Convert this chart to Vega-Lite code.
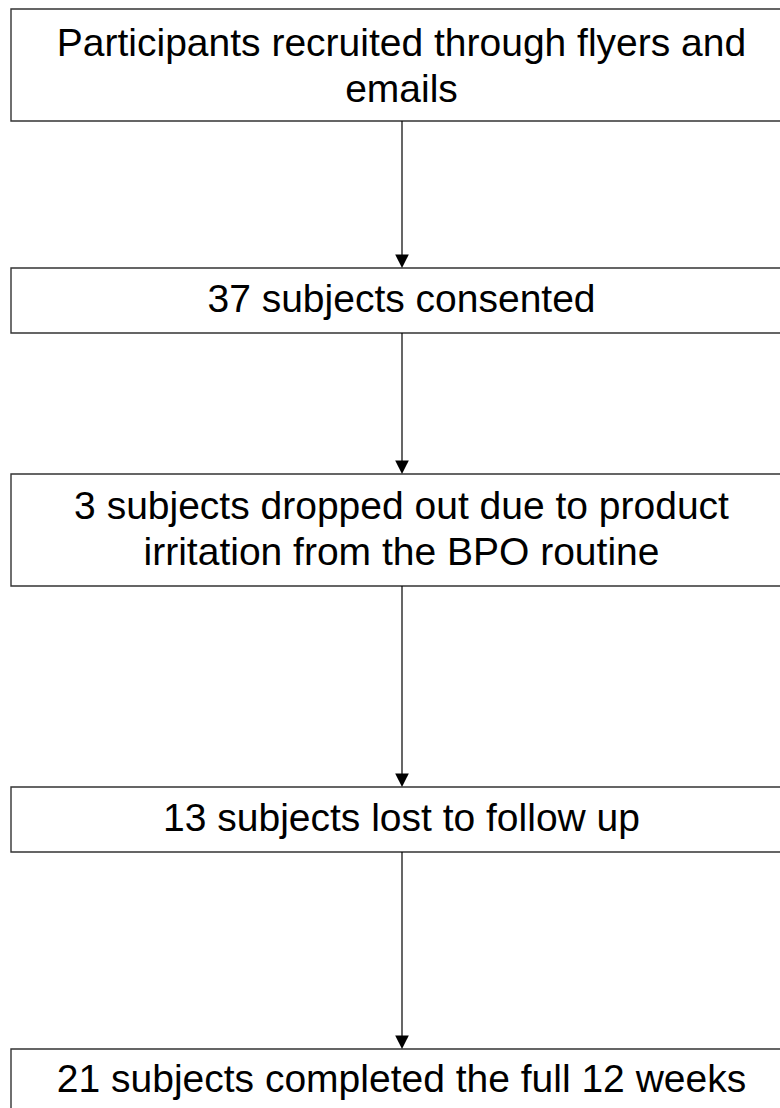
{
  "$schema": "https://vega.github.io/schema/vega-lite/v6.json",
  "width": 780,
  "height": 1108,
  "padding": 0,
  "autosize": {"type": "none"},
  "background": "white",
  "config": {"view": {"stroke": null}},
  "datasets": {
    "boxes": [
      {"label": "Participants recruited through flyers and\nemails", "left": 11, "right": 792, "top": 9, "bottom": 121, "ty": 44},
      {"label": "37 subjects consented", "left": 11, "right": 792, "top": 268, "bottom": 333, "ty": 300},
      {"label": "3 subjects dropped out due to product\nirritation from the BPO routine", "left": 11, "right": 792, "top": 474, "bottom": 586, "ty": 507},
      {"label": "13 subjects lost to follow up", "left": 11, "right": 792, "top": 787, "bottom": 852, "ty": 819},
      {"label": "21 subjects completed the full 12 weeks", "left": 11, "right": 792, "top": 1049, "bottom": 1140, "ty": 1080}
    ],
    "arrows": [
      {"x": 402, "start": 121, "end": 262, "head": 261.3},
      {"x": 402, "start": 333, "end": 468, "head": 467.3},
      {"x": 402, "start": 586, "end": 781, "head": 780.3},
      {"x": 402, "start": 852, "end": 1043, "head": 1042.3}
    ]
  },
  "layer": [
    {
      "data": {"name": "boxes"},
      "mark": {"type": "rect", "fill": "white", "stroke": "#333333", "strokeWidth": 1.4, "clip": true},
      "encoding": {
        "x": {"field": "left", "type": "quantitative", "scale": {"domain": [0, 780], "nice": false, "zero": false}, "axis": null},
        "x2": {"field": "right"},
        "y": {"field": "top", "type": "quantitative", "scale": {"domain": [0, 1108], "nice": false, "zero": false, "reverse": true}, "axis": null},
        "y2": {"field": "bottom"}
      }
    },
    {
      "data": {"name": "boxes"},
      "mark": {"type": "text", "font": "Liberation Sans", "fontSize": 39, "lineHeight": 46, "lineBreak": "\n", "align": "center", "baseline": "middle", "color": "black"},
      "encoding": {
        "x": {"datum": 401.5, "type": "quantitative"},
        "y": {"field": "ty", "type": "quantitative"},
        "text": {"field": "label", "type": "nominal"}
      }
    },
    {
      "data": {"name": "arrows"},
      "mark": {"type": "rule", "color": "black", "strokeWidth": 1.2},
      "encoding": {
        "x": {"field": "x", "type": "quantitative"},
        "y": {"field": "start", "type": "quantitative"},
        "y2": {"field": "end"}
      }
    },
    {
      "data": {"name": "arrows"},
      "mark": {"type": "point", "shape": "M-1,-1L1,-1L0,1Z", "size": 185, "filled": true, "color": "black", "opacity": 1, "strokeWidth": 0},
      "encoding": {
        "x": {"field": "x", "type": "quantitative"},
        "y": {"field": "head", "type": "quantitative"}
      }
    }
  ]
}
